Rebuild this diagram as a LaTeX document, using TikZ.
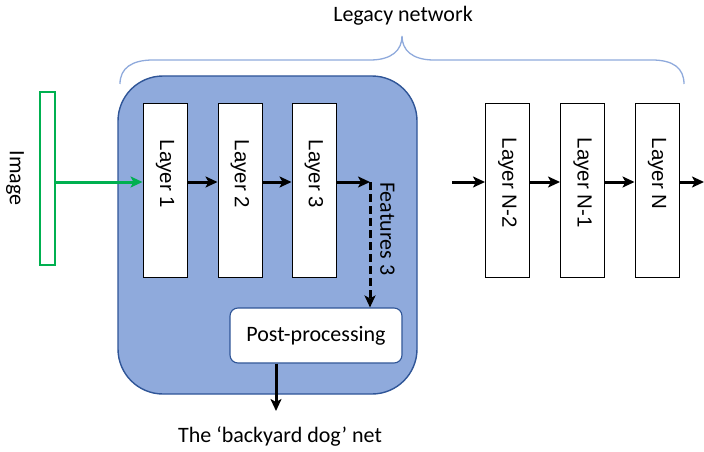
\documentclass[tikz,border=0pt]{standalone}
\usepackage{fontspec}
\setmainfont{Carlito}
\newfontfamily\arialfont{Liberation Sans}
\usetikzlibrary{arrows.meta}

\definecolor{boxblue}{HTML}{8FAADC}
\definecolor{edgeblue}{HTML}{2F5597}
\definecolor{imggreen}{HTML}{00B050}

\tikzset{
  layer/.style={draw=black, line width=1pt, fill=white, minimum width=44pt, minimum height=174pt, inner sep=0pt},
  ltext/.style={rotate=-90, anchor=west, inner sep=0pt, font=\arialfont\fontsize{20.5}{22}\selectfont},
  arr/.style={line width=3pt, -{Stealth[length=12pt,width=11pt,inset=3pt]}},
  txt/.style={font=\fontsize{22}{25}\selectfont}
}

\begin{document}
\begin{tikzpicture}[x=1pt, y=-1pt]
\useasboundingbox (0,0) rectangle (704,452);

% brace over the legacy net
\draw[boxblue, line width=1.3pt] (120,84) .. controls (120,68) and (132,60) .. (153,60) -- (370,60)
  .. controls (392,60) and (402,50) .. (402,36) .. controls (402,50) and (412,60) .. (434,60)
  -- (652,60) .. controls (673,60) and (684,68) .. (684,84);
\node[txt] (legacy) at (403,16) {Legacy network};

% the backyard dog part
\draw[edgeblue, line width=1.4pt, fill=boxblue, rounded corners=45pt] (118,76) rectangle (417,394);

\coordinate (row) at (0,182);

% image
\node[draw=imggreen, line width=1.3pt, minimum width=15pt, minimum height=173pt, inner sep=0pt] (img) at (47.5,178.5) {};
\node[txt, rotate=-90] (imglab) at (15,178) {Image};

% layers
\node[layer] (l1) at (165,190) {};
\node[layer] (l2) at (240,190) {};
\node[layer] (l3) at (314,190) {};
\node[layer] (ln2) at (507.5,190) {};
\node[layer] (ln1) at (582.5,190) {};
\node[layer] (ln) at (657,190) {};
\node[ltext] at ([yshift=-37pt]l1.north) {Layer 1};
\node[ltext] at ([yshift=-37pt]l2.north) {Layer 2};
\node[ltext] at ([yshift=-37pt]l3.north) {Layer 3};
\node[ltext] at ([yshift=-35pt]ln2.north) {Layer N-2};
\node[ltext] at ([yshift=-35pt]ln1.north) {Layer N-1};
\node[ltext] at ([yshift=-35pt]ln.north) {Layer N};

\node[draw=edgeblue, line width=1.1pt, fill=white, rounded corners=8pt, minimum width=172pt, minimum height=55pt, txt] (post) at (316,335.5) {Post-processing};
\node[txt] (dog) at (280,436) {The `backyard dog' net};

\coordinate (f3) at (370,182);
\coordinate (nin) at (452,182);
\coordinate (nout) at (704,182);
\coordinate (dogtip) at (276,411);

\draw[arr, imggreen] (img.east |- row) -- (l1.west |- row);
\draw[arr] (l1.east |- row) -- (l2.west |- row);
\draw[arr] (l2.east |- row) -- (l3.west |- row);
\draw[arr] (l3.east |- row) -- (f3);
\draw[arr, dash pattern=on 8pt off 4pt] (f3) -- (f3 |- post.north);
\node[txt, rotate=-90, anchor=south west, inner sep=0pt] (feat) at (380,182) {Features 3};
\draw[arr] (post.south -| dogtip) -- (dogtip);

\draw[arr] (nin) -- (ln2.west |- row);
\draw[arr] (ln2.east |- row) -- (ln1.west |- row);
\draw[arr] (ln1.east |- row) -- (ln.west |- row);
\draw[arr] (ln.east |- row) -- (nout);

\end{tikzpicture}
\end{document}
